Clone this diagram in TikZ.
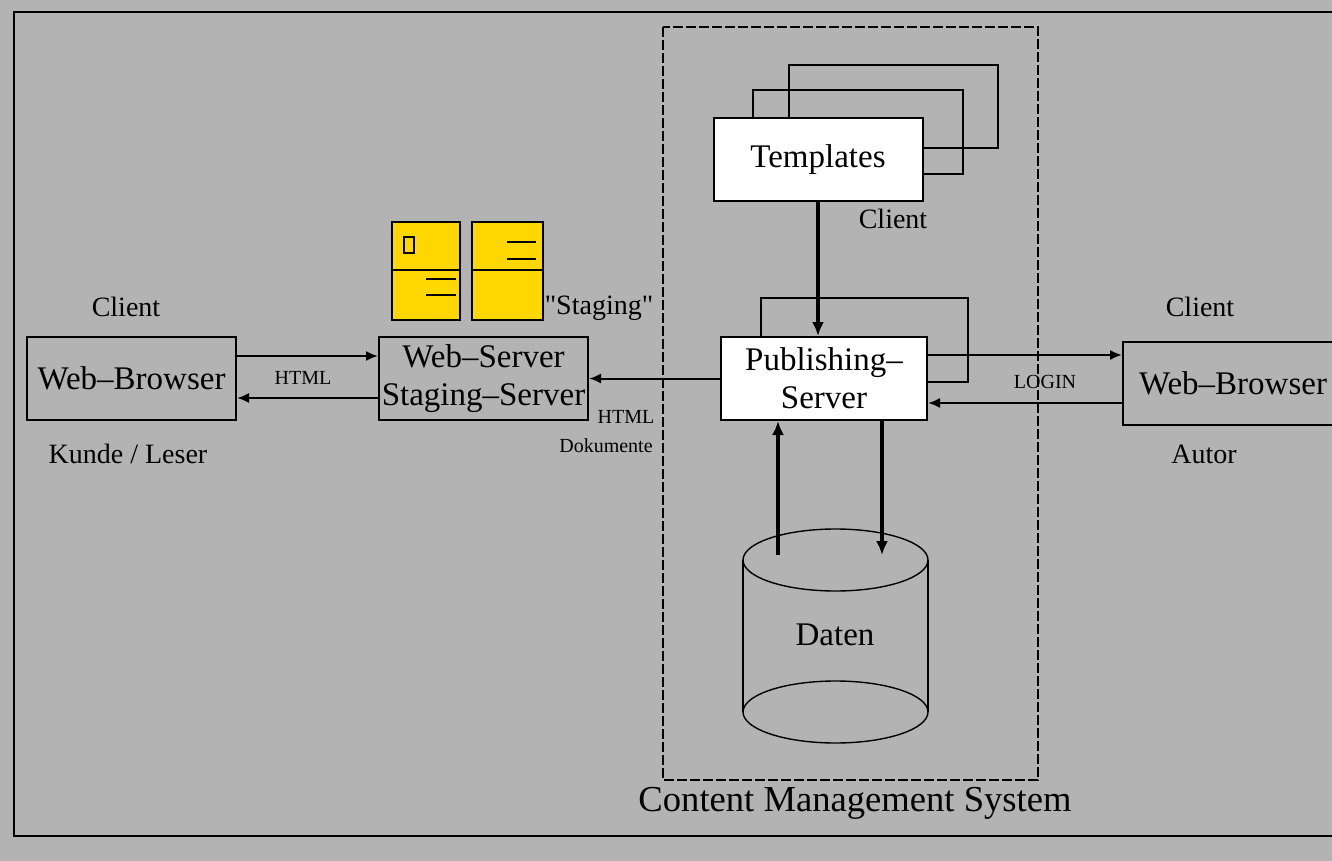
\documentclass[tikz,border=0pt]{standalone}
\usepackage{fontspec}
\setmainfont{Liberation Serif}
\newfontfamily\rawfont{Liberation Serif}[Ligatures=TeXOff]
\usetikzlibrary{arrows.meta}
\definecolor{bggray}{RGB}{179,179,179}
\definecolor{stgyellow}{RGB}{255,215,0}
\newcommand{\boxfont}{\fontsize{16.5}{19}\selectfont}
\newcommand{\lblfont}{\fontsize{14}{16}\selectfont}
\newcommand{\cmsfont}{\fontsize{18.3}{20}\selectfont}
\newcommand{\tagfont}{\fontsize{10}{12}\selectfont}

\begin{document}
\begin{tikzpicture}[x=0.5pt,y=-0.5pt,line width=1pt,
    boxnode/.style={draw,fill=white,minimum width=104.5pt,minimum height=41.5pt,inner sep=0pt,font=\boxfont,align=center},
    graybox/.style={boxnode,fill=none},
    arr/.style={-{Latex[length=6pt,width=5pt]}},
    thickarr/.style={line width=2.2pt,-{Latex[length=7pt,width=6pt]}},
    lbl/.style={inner sep=0pt,font=\lblfont},
    tagnode/.style={inner sep=0pt,font=\tagfont}]
      \path[use as bounding box,fill=bggray] (0,0) rectangle (1332,861);
      \draw[line width=1.2pt] (1345,12) -- (14,12) -- (14,836) -- (1345,836);
      \draw[dash pattern=on 5pt off 1.5pt] (663,27) rectangle (1038,780);
      \node[inner sep=0pt,font=\cmsfont] (cms) at (855,803) {Content Management System};
      \draw (789,65) rectangle (998,148);
      \draw (753,90) rectangle (963,174);
      \node[boxnode] (tpl) at (818,159.5) {Templates};
      \node[lbl] (tplc) at (893,219) {Client};
      \draw[fill=stgyellow] (392,222) rectangle (460,320);
      \draw (392,270) -- (460,270);
      \draw (404,237) rectangle (414,253);
      \draw (426,279) -- (456,279);
      \draw (426,295) -- (456,295);
      \draw[fill=stgyellow] (472,222) rectangle (543,320);
      \draw (472,270) -- (543,270);
      \draw (507,242) -- (536,242);
      \draw (507,259) -- (536,259);
      \node[lbl] (stg) at (599,308) {\rawfont "Staging"};
      \node[graybox] (wbl) at (131.5,378.5) {Web–Browser};
      \node[lbl] (wblc) at (126,307) {Client};
      \node[lbl] (kunde) at (128,454) {Kunde / Leser};
      \node[graybox] (wss) at (483.5,378.5) {Web–Server\\Staging–Server};
      \node[boxnode,minimum width=103pt] (pub) at (824,378.5) {Publishing–\\Server};
      \node[graybox,minimum width=110pt] (wbr) at (1233,383.5) {Web–Browser};
      \node[lbl] (wbrc) at (1200,307) {Client};
      \node[lbl] (autor) at (1204,454) {Autor};
      \draw (pub.north -| 761,0) |- (968,298) |- (pub.east |- 0,382);
      \draw[line width=0.7pt] (743,560) -- (743,712);
      \draw[line width=0.7pt] (928,560) -- (928,712);
      \draw[line width=0.7pt] (835.5,560) ellipse (46.25pt and 15.5pt);
      \draw[line width=0.7pt] (835.5,712) ellipse (46.25pt and 15.5pt);
      \node[lbl,font=\boxfont] (daten) at (835,635) {Daten};
      \coordinate (dbin) at (778,555);
      \coordinate (dbout) at (882,555);
      \draw[arr] ([yshift=11.25pt]wbl.east) -- ([yshift=11.25pt]wss.west);
      \draw[arr] ([yshift=-9.75pt]wss.west) -- ([yshift=-9.75pt]wbl.east);
      \node[tagnode] (html1) at (303,378) {HTML};
      \draw[arr] (pub.west) -- (wss.east);
      \node[tagnode] (html2) at (626,417) {HTML};
      \node[tagnode] (doku) at (606,446) {Dokumente};
      \draw[arr] ([yshift=11.75pt]pub.east) -- ([yshift=11.75pt]pub.east -| wbr.west);
      \draw[arr] ([yshift=-9.75pt]wbr.west) -- ([yshift=-9.75pt]wbr.west -| pub.east);
      \node[tagnode] (login) at (1045,382) {LOGIN};
      \draw[thickarr] (tpl.south) -- (tpl.south |- pub.north);
      \draw[thickarr] (dbin) -- (dbin |- pub.south);
      \draw[thickarr] (dbout |- pub.south) -- (dbout);
    \end{tikzpicture}
\end{document}
